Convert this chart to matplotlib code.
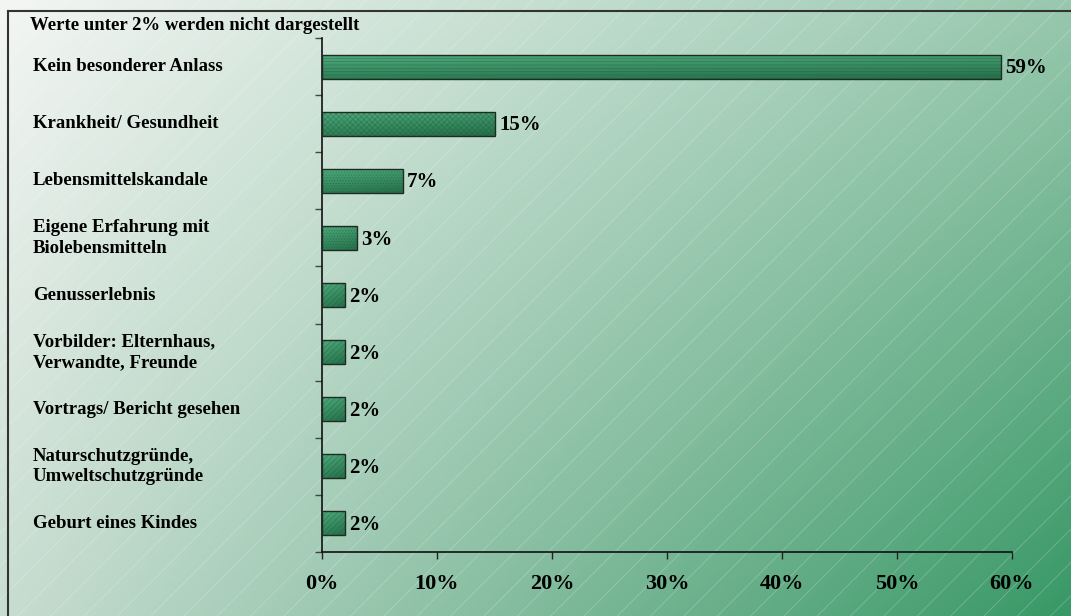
import numpy as np
import matplotlib
matplotlib.use("Agg")
import matplotlib.pyplot as plt
import matplotlib.transforms as mtransforms

# Anlass für den Kauf von Biolebensmitteln (Anteil in %)
categories = [
    "Kein besonderer Anlass",
    "Krankheit/ Gesundheit",
    "Lebensmittelskandale",
    "Eigene Erfahrung mit\nBiolebensmitteln",
    "Genusserlebnis",
    "Vorbilder: Elternhaus,\nVerwandte, Freunde",
    "Vortrags/ Bericht gesehen",
    "Naturschutzgründe,\nUmweltschutzgründe",
    "Geburt eines Kindes",
]
values = [59, 15, 7, 3, 2, 2, 2, 2, 2]
hatches = ["-----", "xxxxxx", "......", "......", "//////", "//////", "//////", "//////", "//////"]
xticks = [0, 10, 20, 30, 40, 50, 60]
note = "Werte unter 2% werden nicht dargestellt"

plt.rcParams["font.family"] = ["Liberation Serif", "DejaVu Serif"]
plt.rcParams["font.weight"] = "bold"
plt.rcParams["hatch.linewidth"] = 0.5

W, H = 1071, 616
fig = plt.figure(figsize=(W / 100, H / 100), dpi=100)

# background: diagonal gradient white -> green with thin white diagonal lines
bg = fig.add_axes([0, 0, 1, 1], zorder=0)
bg.set_axis_off()
tl = np.array([244, 246, 244]) / 255
tr = np.array([152, 200, 174]) / 255
bl = np.array([200, 221, 209]) / 255
br = np.array([56, 152, 102]) / 255
u = np.linspace(0, 1, 300)[None, :, None]
v = np.linspace(0, 1, 200)[:, None, None]
img = (1 - u) * (1 - v) * tl + u * (1 - v) * tr + (1 - u) * v * bl + u * v * br
bg.imshow(img, extent=[0, 1, 0, 1], aspect="auto", origin="upper")
bg.add_patch(plt.Rectangle((0, 0), 1, 1, facecolor="none",
                           edgecolor=(1, 1, 1, 0.28), lw=0, hatch="/"))
bg.plot([8 / W, 8 / W], [0, 1 - 11 / H], color="#333333", lw=1.5)
bg.plot([8 / W, 1], [1 - 11 / H, 1 - 11 / H], color="#333333", lw=1.5)
bg.set_xlim(0, 1)
bg.set_ylim(0, 1)

ax = fig.add_axes([322 / W, 1 - 552 / H, 690 / W, 514 / H], zorder=1)
ax.set_facecolor("none")
n = len(categories)
y = np.arange(n)
bar_h = 0.42

# bar shading: lighter at the top left, darker towards the bottom right
light = np.array([78, 170, 124]) / 255
dark = np.array([36, 112, 74]) / 255
gu = np.linspace(0, 1, 40)[None, :, None]
gv = np.linspace(0, 1, 30)[:, None, None]
shade = np.clip(0.25 * gu + 0.75 * gv, 0, 1)
bar_img = light * (1 - shade) + dark * shade

for yi, val, hatch in zip(y, values, hatches):
    ax.imshow(bar_img, aspect="auto", origin="upper",
              extent=[0, val, yi + bar_h / 2, yi - bar_h / 2], zorder=2)
    ax.barh(yi, val, height=bar_h, color="none", edgecolor=(0.12, 0.35, 0.22, 0.45),
            lw=0, hatch=hatch, zorder=3)
    ax.barh(yi, val, height=bar_h, color="none", edgecolor="#1f2a22", lw=1.0, zorder=4)
    ax.text(val + 0.4, yi + 0.03, f"{val}%", va="center", ha="left",
            fontsize=15, fontweight="bold", color="black", zorder=5)

ax.set_xlim(0, 60)
ax.set_ylim(n - 0.5, -0.5)

ax.set_xticks(xticks)
ax.set_xticklabels([f"{t}%" for t in xticks], fontsize=16, fontweight="bold")
ax.tick_params(axis="x", direction="out", length=5, width=1, pad=11, color="#222222")
ax.set_yticks([])
ax.set_yticks(np.arange(n + 1) - 0.5, minor=True)
ax.tick_params(axis="y", which="minor", direction="out", length=5, width=1, color="#444444")
for side in ("top", "right"):
    ax.spines[side].set_visible(False)
for side in ("left", "bottom"):
    ax.spines[side].set_linewidth(1.2)
    ax.spines[side].set_color("#111111")

# category labels, left aligned at the figure margin
trans = mtransforms.blended_transform_factory(fig.transFigure, ax.transData)
for yi, cat in zip(y, categories):
    ax.text(33 / W, yi, cat, transform=trans, ha="left", va="center",
            fontsize=13.5, fontweight="bold", linespacing=1.25, clip_on=False)

fig.text(30 / W, 1 - 25 / H, note, ha="left", va="center", fontsize=13.5, fontweight="bold")

fig.savefig("out.png", dpi=100)
